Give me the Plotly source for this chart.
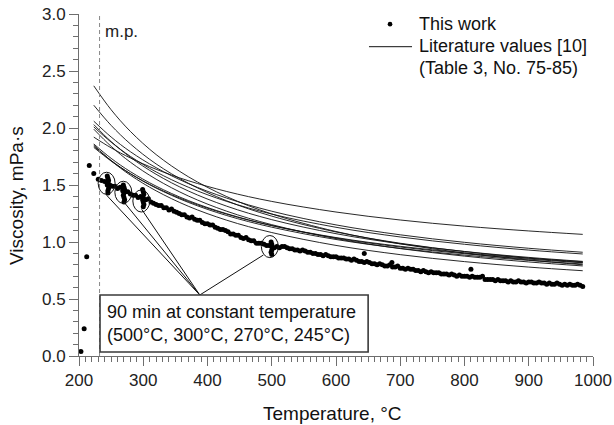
import plotly.graph_objects as go

# ---------------- data ----------------
lit_T = [223, 250, 280, 320, 370, 430, 500, 600, 700, 800, 900, 984]
lit_curves = [
    [2.370, 2.160, 1.970, 1.767, 1.573, 1.398, 1.246, 1.092, 0.984, 0.903, 0.842, 0.800],
    [2.200, 2.023, 1.860, 1.685, 1.516, 1.361, 1.227, 1.088, 0.989, 0.916, 0.859, 0.820],
    [2.060, 1.921, 1.792, 1.652, 1.513, 1.385, 1.270, 1.150, 1.063, 0.997, 0.945, 0.910],
    [2.030, 1.881, 1.743, 1.594, 1.448, 1.314, 1.196, 1.073, 0.984, 0.917, 0.865, 0.830],
    [2.010, 1.876, 1.751, 1.615, 1.481, 1.356, 1.245, 1.129, 1.044, 0.980, 0.929, 0.895],
    [1.990, 1.839, 1.700, 1.551, 1.404, 1.270, 1.152, 1.030, 0.942, 0.876, 0.825, 0.790],
    [1.920, 1.826, 1.737, 1.638, 1.538, 1.443, 1.356, 1.263, 1.193, 1.139, 1.097, 1.067],
    [1.860, 1.734, 1.617, 1.490, 1.364, 1.248, 1.144, 1.035, 0.956, 0.897, 0.850, 0.818],
    [1.850, 1.713, 1.586, 1.449, 1.314, 1.191, 1.083, 0.970, 0.889, 0.828, 0.780, 0.748],
    [1.840, 1.715, 1.599, 1.473, 1.348, 1.232, 1.130, 1.022, 0.944, 0.885, 0.839, 0.807],
    [1.830, 1.710, 1.599, 1.477, 1.356, 1.244, 1.144, 1.039, 0.962, 0.904, 0.858, 0.827],
]

band_T = [
    240, 244, 248, 252, 256, 260, 264, 268, 272, 276,
    280, 284, 288, 292, 296, 300, 304, 308, 312, 316,
    320, 324, 328, 332, 336, 340, 344, 348, 352, 356,
    360, 364, 368, 372, 376, 380, 384, 388, 392, 396,
    400, 404, 408, 412, 416, 420, 424, 428, 432, 436,
    440, 444, 448, 452, 456, 460, 464, 468, 472, 476,
    480, 484, 488, 492, 496, 500, 504, 508, 512, 516,
    520, 524, 528, 532, 536, 540, 544, 548, 552, 556,
    560, 564, 568, 572, 576, 580, 584, 588, 592, 596,
    600, 604, 608, 612, 616, 620, 624, 628, 632, 636,
    640, 644, 648, 652, 656, 660, 664, 668, 672, 676,
    680, 684, 688, 692, 696, 700, 704, 708, 712, 716,
    720, 724, 728, 732, 736, 740, 744, 748, 752, 756,
    760, 764, 768, 772, 776, 780, 784, 788, 792, 796,
    800, 804, 808, 812, 816, 820, 824, 828, 832, 836,
    840, 844, 848, 852, 856, 860, 864, 868, 872, 876,
    880, 884, 888, 892, 896, 900, 904, 908, 912, 916,
    920, 924, 928, 932, 936, 940, 944, 948, 952, 956,
    960, 964, 968, 972, 976, 980, 984,
]
band_V = [
    1.53, 1.51, 1.50, 1.49, 1.49, 1.47, 1.48, 1.45, 1.44, 1.44,
    1.42, 1.41, 1.41, 1.39, 1.40, 1.38, 1.37, 1.38, 1.35, 1.34,
    1.33, 1.32, 1.32, 1.30, 1.30, 1.28, 1.29, 1.27, 1.26, 1.25,
    1.24, 1.24, 1.22, 1.21, 1.22, 1.20, 1.19, 1.19, 1.17, 1.16,
    1.16, 1.15, 1.15, 1.13, 1.12, 1.11, 1.11, 1.10, 1.09, 1.07,
    1.07, 1.06, 1.06, 1.04, 1.03, 1.04, 1.02, 1.01, 1.01, 0.99,
    0.99, 0.99, 0.98, 0.97, 0.97, 0.96, 0.95, 0.96, 0.95, 0.96,
    0.96, 0.95, 0.94, 0.94, 0.93, 0.93, 0.92, 0.93, 0.92, 0.91,
    0.91, 0.90, 0.90, 0.89, 0.89, 0.88, 0.89, 0.88, 0.87, 0.87,
    0.87, 0.86, 0.86, 0.86, 0.85, 0.85, 0.84, 0.85, 0.84, 0.83,
    0.83, 0.82, 0.83, 0.82, 0.81, 0.81, 0.80, 0.81, 0.80, 0.79,
    0.79, 0.80, 0.78, 0.78, 0.79, 0.77, 0.77, 0.76, 0.77, 0.76,
    0.76, 0.75, 0.75, 0.74, 0.75, 0.74, 0.73, 0.74, 0.73, 0.73,
    0.73, 0.72, 0.72, 0.72, 0.71, 0.72, 0.71, 0.70, 0.71, 0.70,
    0.70, 0.70, 0.69, 0.70, 0.69, 0.69, 0.69, 0.70, 0.67, 0.67,
    0.67, 0.67, 0.66, 0.67, 0.66, 0.66, 0.66, 0.65, 0.66, 0.65,
    0.65, 0.66, 0.65, 0.65, 0.64, 0.65, 0.65, 0.64, 0.64, 0.65,
    0.64, 0.64, 0.63, 0.64, 0.63, 0.63, 0.64, 0.63, 0.62, 0.63,
    0.62, 0.63, 0.62, 0.62, 0.63, 0.62, 0.61,
]

# 90 min holds at constant temperature
hold_T = [244, 245, 246, 245, 244, 246, 245, 245,
          269, 270, 271, 270, 269, 270, 271, 270,
          299, 300, 301, 300, 299, 300, 301, 300,
          499, 500, 501, 500, 499, 500]
hold_V = [1.58, 1.56, 1.54, 1.52, 1.50, 1.47, 1.45, 1.43,
          1.50, 1.48, 1.46, 1.43, 1.41, 1.39, 1.37, 1.35,
          1.46, 1.44, 1.42, 1.39, 1.37, 1.35, 1.33, 1.31,
          1.00, 0.98, 0.95, 0.93, 0.91, 0.89]

# heating-up and stray points
extra_T = [203, 208, 212, 216, 223, 230, 235, 644, 687, 810]
extra_V = [0.04, 0.24, 0.87, 1.67, 1.60, 1.55, 1.54, 0.90, 0.82, 0.76]

melting_point = 232
hold_centers_T = [243, 269, 297, 497]
hold_centers_V = [1.515, 1.436, 1.360, 0.960]
pointer_end_T = [243, 270, 297.5, 487]
pointer_end_V = [1.41, 1.35, 1.287, 0.886]
pointer_apex = (388, 0.535)
box_T = (232.7, 650)
box_V = (0.035, 0.535)

x_ticks = [200, 300, 400, 500, 600, 700, 800, 900, 1000]
y_ticks = [0.0, 0.5, 1.0, 1.5, 2.0, 2.5, 3.0]

# ---------------- figure ----------------
FONT = "Liberation Sans, Arial, sans-serif"
AX = "#6e6e6e"

fig = go.Figure()

for i, vals in enumerate(lit_curves):
    fig.add_trace(go.Scatter(
        x=lit_T, y=vals, mode="lines", line=dict(color="#111", width=0.9, shape="spline"),
        name="Literature values [10]<br>(Table 3, No. 75-85)",
        legendgroup="lit", showlegend=False, hoverinfo="skip"))

all_T = extra_T + band_T + hold_T
all_V = extra_V + band_V + hold_V
fig.add_trace(go.Scatter(
    x=all_T, y=all_V, mode="markers", name="This work", showlegend=False,
    marker=dict(color="#000", size=5, line=dict(width=0))))

shapes = []
# melting point
shapes.append(dict(type="line", xref="x", yref="y", x0=melting_point, x1=melting_point,
                   y0=0, y1=3.0, line=dict(color="#888", width=1, dash="4px,3px")))
# ellipses around holds
hw, hh = 13.2, 0.097
for cT, cV in zip(hold_centers_T, hold_centers_V):
    shapes.append(dict(type="circle", xref="x", yref="y", x0=cT - hw, x1=cT + hw,
                       y0=cV - hh, y1=cV + hh, line=dict(color="#111", width=1)))
# pointer lines
for eT, eV in zip(pointer_end_T, pointer_end_V):
    shapes.append(dict(type="line", xref="x", yref="y", x0=pointer_apex[0], y0=pointer_apex[1],
                       x1=eT, y1=eV, line=dict(color="#111", width=1)))
# text box
shapes.append(dict(type="rect", xref="x", yref="y", x0=box_T[0], x1=box_T[1],
                   y0=box_V[0], y1=box_V[1], fillcolor="white",
                   line=dict(color="#3a3a3a", width=1.6)))

# legend (drawn in paper coordinates)
shapes.append(dict(type="circle", xref="paper", yref="paper", x0=0.6006, x1=0.6096,
                   y0=0.9635, y1=0.9770, fillcolor="#000", line=dict(width=0)))
shapes.append(dict(type="line", xref="paper", yref="paper", x0=0.5642, x1=0.6479,
                   y0=0.9044, y1=0.9044, line=dict(color="#111", width=1)))

annotations = [
    dict(text="This work", x=0.6576, y=0.9702, xref="paper", yref="paper", showarrow=False,
         xanchor="left", yanchor="middle", font=dict(size=18, color="#111")),
    dict(text="Literature values [10]", x=0.6576, y=0.9068, xref="paper", yref="paper",
         showarrow=False, xanchor="left", yanchor="middle", font=dict(size=18, color="#111")),
    dict(text="(Table 3, No. 75-85)", x=0.6576, y=0.8434, xref="paper", yref="paper",
         showarrow=False, xanchor="left", yanchor="middle", font=dict(size=18, color="#111")),
    dict(text="m.p.", x=237, y=2.85, xref="x", yref="y", showarrow=False,
         xanchor="left", yanchor="middle", font=dict(size=17, color="#222")),
    dict(text="90 min at constant temperature<br>(500°C, 300°C, 270°C, 245°C)",
         x=241, y=0.285, xref="x", yref="y", showarrow=False, align="left",
         xanchor="left", yanchor="middle", font=dict(size=18, color="#111")),
    dict(text="Temperature, °C", x=0.493, y=-0.167, xref="paper", yref="paper",
         showarrow=False, xanchor="center", yanchor="middle", font=dict(size=19, color="#111")),
    dict(text="Viscosity, mPa·s", x=-0.1206, y=0.468, xref="paper", yref="paper",
         showarrow=False, xanchor="center", yanchor="middle", textangle=-90,
         font=dict(size=19, color="#111")),
]

fig.update_layout(
    width=614, height=425,
    margin=dict(l=79, r=21, t=14, b=69, autoexpand=False),
    plot_bgcolor="white", paper_bgcolor="white",
    font=dict(family=FONT, size=17, color="#222"),
    shapes=shapes, annotations=annotations,
    showlegend=False,
    xaxis=dict(range=[200, 1000], tickvals=x_ticks, showgrid=False, zeroline=False,
               showline=True, linecolor=AX, linewidth=1, ticks="outside", ticklen=9,
               tickcolor=AX, tickwidth=1, tickfont=dict(size=17, color="#222"),
               minor=dict(dtick=10, ticks="outside", ticklen=5, tickcolor=AX, showgrid=False)),
    yaxis=dict(range=[0, 3.0], tickvals=y_ticks, tickformat=".1f", showgrid=False, zeroline=False,
               showline=True, linecolor=AX, linewidth=1, ticks="outside", ticklen=9,
               tickcolor=AX, tickwidth=1, tickfont=dict(size=17, color="#222"),
               minor=dict(dtick=0.1, ticks="outside", ticklen=5, tickcolor=AX, showgrid=False)),
)

fig.write_html("out.html", config={"displayModeBar": False},
               post_script="document.body.style.margin='0';document.body.style.overflow='hidden';")
